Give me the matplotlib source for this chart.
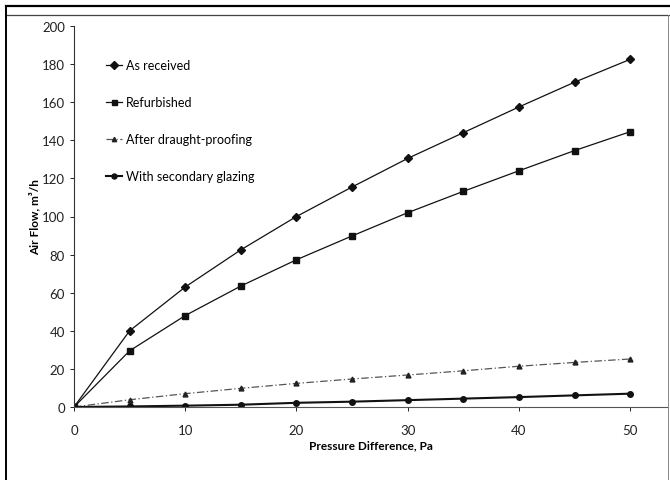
import matplotlib.pyplot as plt
from matplotlib.lines import Line2D

plt.rcParams['font.family'] = ['Lato', 'DejaVu Sans']

pressure = [0, 5, 10, 15, 20, 25, 30, 35, 40, 45, 50]
as_received = [0, 40, 63, 82.5, 100, 115.5, 130.5, 144, 157.5, 170.5, 182.5]
refurbished = [0, 29.5, 48, 63.5, 77.3, 89.8, 102, 113.2, 124, 134.6, 144.5]
draught_proofed = [0, 3.8, 7, 9.8, 12.4, 14.7, 16.8, 19, 21.4, 23.4, 25.2]
secondary_glazing = [0, 0.3, 0.7, 1.2, 2.2, 2.8, 3.6, 4.4, 5.2, 6.1, 7.0]

fig = plt.figure(figsize=(6.7, 4.81), dpi=100)
ax = fig.add_axes([74 / 670, 73 / 481, 594 / 670, 381 / 481])

ax.plot(pressure, as_received, color='#111111', lw=0.9, marker='D', ms=4,
        label='As received')
ax.plot(pressure, refurbished, color='#111111', lw=0.9, marker='s', ms=4,
        label='Refurbished')
ax.plot(pressure, draught_proofed, color='#555555', lw=0.9, ls=(0, (6, 2, 1, 2)),
        marker='^', ms=3.5, mfc='#222222', mec='#222222',
        label='After draught-proofing')
ax.plot(pressure, secondary_glazing, color='#111111', lw=1.5, marker='o', ms=4,
        label='With secondary glazing')

ax.set_xlim(0, 53.4)
ax.set_ylim(0, 200)
ax.set_xticks([0, 10, 20, 30, 40, 50])
ax.set_yticks(range(0, 201, 20))
ax.spines['top'].set_visible(False)
ax.spines['right'].set_visible(False)
ax.spines['left'].set_color('#333333')
ax.spines['bottom'].set_color('#555555')
ax.spines['left'].set_linewidth(0.8)
ax.tick_params(axis='both', labelsize=9.5, length=3, width=0.7, colors='#222222')
ax.tick_params(axis='x', pad=9)

ax.set_xlabel('Pressure Difference, Pa', fontsize=8.5, fontweight='bold', labelpad=3)
ax.set_ylabel('Air Flow, m³/h', fontsize=8.5, fontweight='bold', labelpad=1)

ax.legend(loc='upper left', bbox_to_anchor=(0.035, 0.942), frameon=False,
          fontsize=9, handlelength=1.3, handletextpad=0.3, labelspacing=2.0,
          markerscale=0.9)

# scanned page frame
fig.add_artist(Line2D([6 / 670, 1], [1 - 7 / 481, 1 - 7 / 481], color='black', lw=1.6))
fig.add_artist(Line2D([6 / 670, 1], [1 - 16 / 481, 1 - 16 / 481], color='#444444', lw=0.9))
fig.add_artist(Line2D([6 / 670, 6 / 670], [0, 1 - 7 / 481], color='black', lw=1.4))
fig.add_artist(Line2D([668 / 670, 668 / 670], [0, 1 - 16 / 481], color='#888888', lw=0.7))

fig.savefig('out.png', dpi=100)
